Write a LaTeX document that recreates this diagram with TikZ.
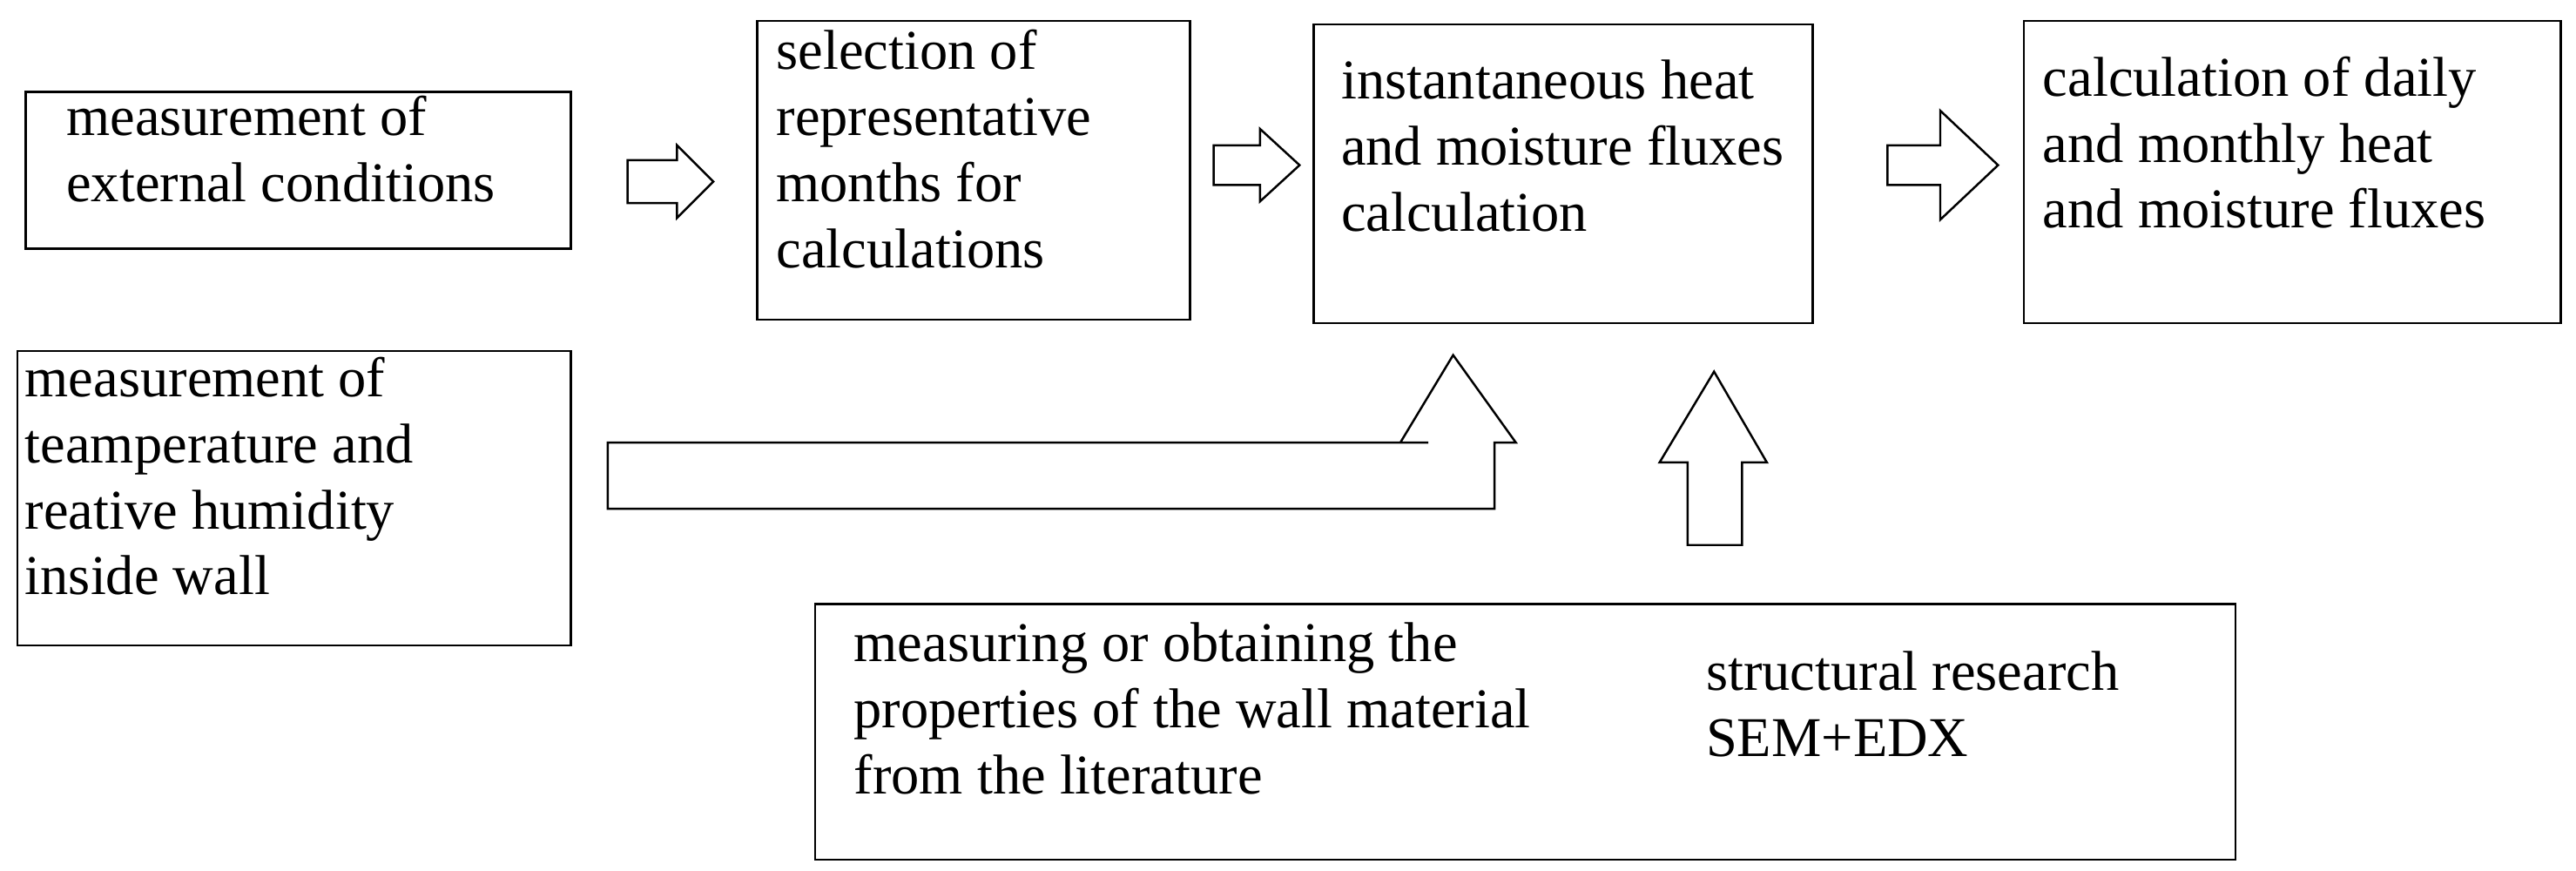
\documentclass[tikz,border=0pt]{standalone}
\usepackage{fontspec}
\setmainfont{Liberation Serif}
\begin{document}
\begin{tikzpicture}[x=1pt,y=-1pt,
  box/.style={draw,line width=1.3pt,anchor=north west,inner sep=0},
  txt/.style={anchor=north west,inner sep=0,align=left,font=\fontsize{34}{40}\selectfont},
  blk/.style={draw,line width=1.3pt,fill=white,line join=miter}]
\useasboundingbox (0,0) rectangle (1560,527);
\node[box,minimum width=330,minimum height=95] (b1) at (15,55) {};
\node[box,minimum width=262,minimum height=181] (b2) at (458,12) {};
\node[box,minimum width=302,minimum height=181] (b3) at (795,14) {};
\node[box,minimum width=325,minimum height=183] (b4) at (1225,12) {};
\node[box,minimum width=335,minimum height=178] (b5) at (10,212) {};
\node[box,minimum width=860,minimum height=155] (b6) at (493,365) {};
\node[txt] (t1) at (40,58) {measurement of\\external conditions};
\node[txt] (t2) at (470,18) {selection of\\representative\\months for\\calculations};
\node[txt] (t3) at (812,36) {instantaneous heat\\and moisture fluxes\\calculation};
\node[txt] (t4) at (1237,34) {calculation of daily\\and monthly heat\\and moisture fluxes};
\node[txt] (t5) at (15,216) {measurement of\\teamperature and\\reative humidity\\inside wall};
\node[txt] (t6) at (517,377) {measuring or obtaining the\\properties of the wall material\\from the literature};
\node[txt] (t7) at (1033,394) {structural research\\SEM+EDX};
% block arrows
\draw[blk] (380,97) -- (410,97) -- (410,88) -- (432,110) -- (410,132) -- (410,123) -- (380,123) -- cycle;
\draw[blk] (735,88) -- (763,88) -- (763,78) -- (787,100) -- (763,122) -- (763,112) -- (735,112) -- cycle;
\draw[blk] (1143,88) -- (1175,88) -- (1175,67) -- (1210,100) -- (1175,133) -- (1175,112) -- (1143,112) -- cycle;
\draw[blk] (368,308) -- (905,308) -- (905,268) -- (918,268) -- (880,215) -- (848,268) -- (865,268) -- (368,268) -- cycle;
\draw[blk] (1022,330) -- (1055,330) -- (1055,280) -- (1070,280) -- (1038,225) -- (1005,280) -- (1022,280) -- cycle;
\end{tikzpicture}
\end{document}
